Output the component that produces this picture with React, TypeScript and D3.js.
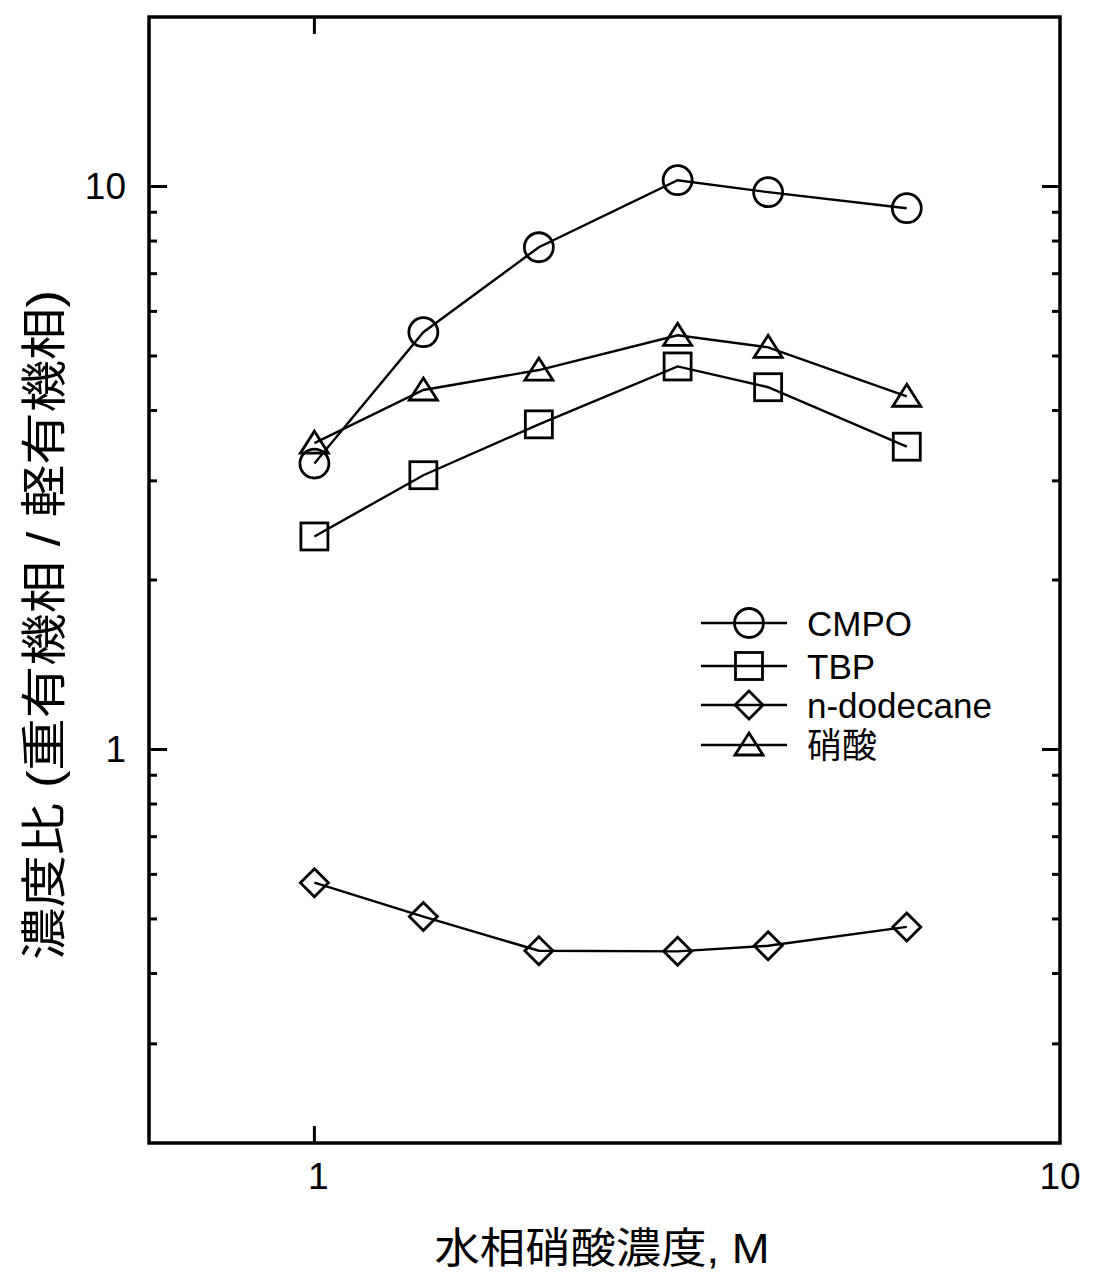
import React from "react";
import * as d3 from "d3";

// Aqueous nitric acid concentration (M)
const acidConc = [1, 1.4, 2, 3.07, 4.06, 6.23];

// Concentration ratio (heavy organic phase / light organic phase)
const cmpoRatio = [3.22, 5.51, 7.8, 10.26, 9.77, 9.15];
const tbpRatio = [2.39, 3.07, 3.78, 4.79, 4.4, 3.45];
const dodecaneRatio = [0.58, 0.505, 0.439, 0.438, 0.448, 0.484];
const nitricRatio = [3.5, 4.35, 4.72, 5.44, 5.18, 4.24];

const seriesNames = ["CMPO", "TBP", "n-dodecane", "硝酸"];
const seriesShapes = ["circle", "square", "diamond", "triangle"];

const xTickLabels = ["1", "10"];
const yTickLabels = ["1", "10"];

const W = 1093;
const H = 1277;
const frame = { left: 149, right: 1060, top: 17, bottom: 1143 };
const FONT = "'Liberation Sans', Arial, 'Noto Sans CJK JP', sans-serif";

function Marker({ shape, x, y }: { shape: string; x: number; y: number }) {
  const common = { fill: "none", stroke: "#000", strokeWidth: 2.8 };
  if (shape === "circle") return <circle cx={x} cy={y} r={14.5} {...common} />;
  if (shape === "square")
    return <rect x={x - 13.5} y={y - 13.5} width={27} height={27} {...common} />;
  if (shape === "diamond")
    return (
      <path
        d={`M${x},${y - 14}L${x + 14},${y}L${x},${y + 14}L${x - 14},${y}Z`}
        {...common}
      />
    );
  return (
    <path
      d={`M${x},${y - 12}L${x + 14},${y + 10}L${x - 14},${y + 10}Z`}
      {...common}
    />
  );
}

export default function App() {
  const x = d3
    .scaleLog()
    .domain([0.6, 10])
    .range([frame.left, frame.right]);
  const y = d3
    .scaleLog()
    .domain([0.2, 20])
    .range([frame.bottom, frame.top]);

  const series = [cmpoRatio, tbpRatio, dodecaneRatio, nitricRatio];
  const line = d3
    .line<number>()
    .x((_, i) => x(acidConc[i]))
    .y((d) => y(d));

  const yMinor: number[] = [];
  [0.1, 1].forEach((base) => {
    for (let k = 2; k <= 9; k++) {
      const v = +(base * k).toFixed(2);
      if (v > 0.2) yMinor.push(v);
    }
  });
  const yMajor = yTickLabels.map(Number);
  const xMajor = xTickLabels.map(Number);

  const legendX = 749;
  const legendY = [623, 666, 705, 745];

  return (
    <svg
      width={W}
      height={H}
      style={{ position: "absolute", left: 0, top: 0, background: "#fff" }}
      fontFamily={FONT}
    >
      <rect x={0} y={0} width={W} height={H} fill="#fff" />

      {/* y ticks, left and right */}
      {yMinor.map((v) => (
        <g key={"ym" + v} stroke="#000" strokeWidth={3}>
          <line x1={frame.left} x2={frame.left + 8} y1={y(v)} y2={y(v)} />
          <line x1={frame.right} x2={frame.right - 8} y1={y(v)} y2={y(v)} />
        </g>
      ))}
      {yMajor.map((v) => (
        <g key={"yM" + v} stroke="#000" strokeWidth={3}>
          <line x1={frame.left} x2={frame.left + 18} y1={y(v)} y2={y(v)} />
          <line x1={frame.right} x2={frame.right - 18} y1={y(v)} y2={y(v)} />
        </g>
      ))}
      {yMajor.map((v, i) => (
        <text
          key={"yl" + v}
          x={frame.left - 23}
          y={y(v) + 13}
          textAnchor="end"
          fontSize={37}
        >
          {yTickLabels[i]}
        </text>
      ))}

      {/* x ticks, bottom and top */}
      {xMajor
        .filter((v) => v < 10)
        .map((v) => (
          <g key={"xM" + v} stroke="#000" strokeWidth={3}>
            <line x1={x(v)} x2={x(v)} y1={frame.bottom} y2={frame.bottom - 17} />
            <line x1={x(v)} x2={x(v)} y1={frame.top} y2={frame.top + 17} />
          </g>
        ))}
      {xMajor.map((v, i) => (
        <text
          key={"xl" + v}
          x={x(v) + (v === 10 ? 0 : 4)}
          y={frame.bottom + 46}
          textAnchor="middle"
          fontSize={37}
        >
          {xTickLabels[i]}
        </text>
      ))}

      {/* frame */}
      <rect
        x={frame.left}
        y={frame.top}
        width={frame.right - frame.left}
        height={frame.bottom - frame.top}
        fill="none"
        stroke="#000"
        strokeWidth={3.5}
      />

      {/* data lines */}
      {series.map((s, i) => (
        <path
          key={"l" + i}
          d={line(s) || ""}
          fill="none"
          stroke="#000"
          strokeWidth={2.4}
        />
      ))}
      {/* markers */}
      {series.map((s, i) =>
        s.map((v, j) => (
          <Marker
            key={"m" + i + "-" + j}
            shape={seriesShapes[i]}
            x={x(acidConc[j])}
            y={y(v)}
          />
        ))
      )}

      {/* legend */}
      {seriesNames.map((name, i) => (
        <g key={"lg" + i}>
          <line
            x1={legendX - 48}
            x2={legendX + 38}
            y1={legendY[i]}
            y2={legendY[i]}
            stroke="#000"
            strokeWidth={2.4}
          />
          <Marker shape={seriesShapes[i]} x={legendX} y={legendY[i]} />
          <text x={807} y={legendY[i] + 13} fontSize={35}>
            {name}
          </text>
        </g>
      ))}

      {/* axis titles */}
      <text
        x={602}
        y={1263}
        textAnchor="middle"
        fontSize={42}
        textLength={335}
        lengthAdjust="spacingAndGlyphs"
      >
        水相硝酸濃度, M
      </text>
      <text
        transform={`translate(60,${625}) rotate(-90)`}
        textAnchor="middle"
        fontSize={46}
        textLength={670}
        lengthAdjust="spacingAndGlyphs"
      >
        濃度比 (重有機相 / 軽有機相)
      </text>
    </svg>
  );
}
